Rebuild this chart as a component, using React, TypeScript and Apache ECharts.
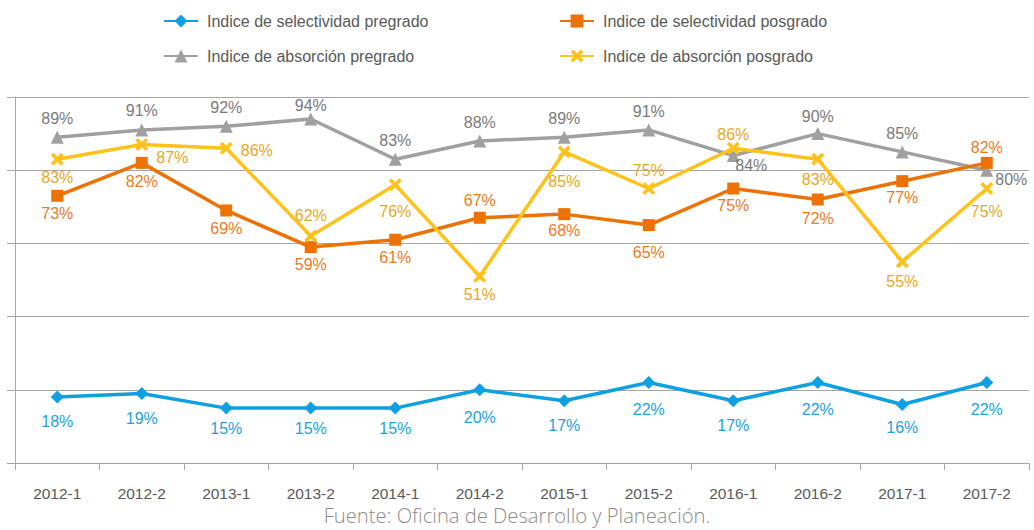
import React, { useEffect, useRef } from 'react';
import * as echarts from 'echarts';

const categories = ['2012-1', '2012-2', '2013-1', '2013-2', '2014-1', '2014-2', '2015-1', '2015-2', '2016-1', '2016-2', '2017-1', '2017-2'];
const selectividadPregrado = [18, 19, 15, 15, 15, 20, 17, 22, 17, 22, 16, 22];
const selectividadPosgrado = [73, 82, 69, 59, 61, 67, 68, 65, 75, 72, 77, 82];
const absorcionPregrado = [89, 91, 92, 94, 83, 88, 89, 91, 84, 90, 85, 80];
const absorcionPosgrado = [83, 87, 86, 62, 76, 51, 85, 75, 86, 83, 55, 75];

const seriesNames = [
  'Indice de selectividad pregrado',
  'Indice de selectividad posgrado',
  'Indice de absorción pregrado',
  'Indice de absorción posgrado',
];
const footer = 'Fuente: Oficina de Desarrollo y Planeación.';

const FONT = '"Liberation Sans", Arial, sans-serif';
const X_SYMBOL = 'path://M0,2L2,0L5,3L8,0L10,2L7,5L10,8L8,10L5,7L2,10L0,8L3,5Z';

// label placement per point (style only)
const blueDist = [10, 11, 6, 6, 6, 13, 10, 13, 10, 13, 9, 13];
const orangePos = ['b', 'b', 'b', 'b', 'b', 't', 'b', 'b', 'b', 'b', 'b', 't'];
const orangeDist = [4, 5, 4, 3, 4, 3, 2, 13, 3, 5, 2, 1];
const grayDist = [4, 5, 4, -1, 4, 4, 4, 4, 0, 3, 4, 0];
const yellowPos = ['b', 'r', 'r', 't', 'b', 'b', 'b', 't', 't', 'b', 'b', 'b'];
const yellowDist = [4, 6, 6, 6, 12, 4, 15, 4, -1, 6, 5, 8];

export default function App() {
  const ref = useRef<HTMLDivElement>(null);
  useEffect(() => {
    if (!ref.current) return;
    const chart = echarts.init(ref.current, undefined, { renderer: 'svg' });
    const lbl = (color: string) => ({
      show: true,
      formatter: (p: any) => p.value + '%',
      color,
      fontFamily: FONT,
      fontSize: 16,
    });
    const legendBase = {
      orient: 'vertical',
      top: 8,
      itemGap: 19,
      itemWidth: 34,
      itemHeight: 16,
      textStyle: { color: '#595959', fontFamily: FONT, fontSize: 16, padding: [0, 0, 0, 4] },
    };
    const posMap: any = { b: 'bottom', t: 'top', r: 'right' };
    const option: any = {
      animation: false,
      backgroundColor: '#ffffff',
      grid: { left: 15, right: 5, top: 97, bottom: 67 },
      legend: [
        { ...legendBase, data: [seriesNames[0], seriesNames[2]], left: 158 },
        { ...legendBase, data: [seriesNames[1], seriesNames[3]], left: 554 },
      ],
      xAxis: {
        type: 'category',
        data: categories,
        boundaryGap: true,
        axisLine: { lineStyle: { color: '#A6A6A6', width: 1 } },
        axisTick: { show: true, length: 7, inside: false, lineStyle: { color: '#A6A6A6' } },
        axisLabel: { color: '#595959', fontFamily: FONT, fontSize: 15.5, margin: 22 },
      },
      yAxis: {
        type: 'value',
        min: 0,
        max: 100,
        interval: 20,
        axisLine: { show: true, lineStyle: { color: '#A6A6A6', width: 1 } },
        axisTick: { show: true, length: 8, lineStyle: { color: '#A6A6A6' } },
        axisLabel: { show: false },
        splitLine: { show: true, lineStyle: { color: '#A6A6A6', width: 1 } },
      },
      graphic: [
        {
          type: 'text',
          left: 'center',
          top: 505,
          style: { text: footer, fill: '#8C8C8C', font: '300 20.2px "Open Sans", sans-serif' },
        },
      ],
      series: [
        {
          name: seriesNames[0],
          type: 'line',
          data: selectividadPregrado.map((v, i) => ({
            value: v,
            label: { position: 'bottom', distance: blueDist[i] },
          })),
          symbol: 'diamond',
          symbolSize: 13,
          lineStyle: { color: '#0FA0E2', width: 3.5 },
          itemStyle: { color: '#0FA0E2' },
          label: lbl('#1BA3E2'),
          z: 3,
        },
        {
          name: seriesNames[1],
          type: 'line',
          data: selectividadPosgrado.map((v, i) => ({
            value: v,
            label: { position: posMap[orangePos[i]], distance: orangeDist[i] },
          })),
          symbol: 'rect',
          symbolSize: 12,
          lineStyle: { color: '#EE7203', width: 3.5 },
          itemStyle: { color: '#EE7203' },
          label: lbl('#EE7A1A'),
          z: 4,
        },
        {
          name: seriesNames[2],
          type: 'line',
          data: absorcionPregrado.map((v, i) => ({
            value: v,
            label:
              i === 8
                ? { position: 'bottom', distance: 0, offset: [18, -5] }
                : i === 11
                ? { position: 'right', distance: 2, offset: [0, 9] }
                : { position: 'top', distance: grayDist[i] },
          })),
          symbol: 'triangle',
          symbolSize: 13,
          lineStyle: { color: '#A0A0A0', width: 3.5 },
          itemStyle: { color: '#A0A0A0' },
          label: lbl('#7A7A7A'),
          z: 2,
        },
        {
          name: seriesNames[3],
          type: 'line',
          data: absorcionPosgrado.map((v, i) => ({
            value: v,
            label:
              yellowPos[i] === 'r'
                ? { position: 'right', distance: yellowDist[i] + 2, offset: [0, i === 1 ? 13 : 2] }
                : { position: posMap[yellowPos[i]], distance: yellowDist[i] },
          })),
          symbol: X_SYMBOL,
          symbolSize: 13,
          lineStyle: { color: '#FFC21A', width: 3.5 },
          itemStyle: { color: '#FFC21A' },
          label: lbl('#E8A81E'),
          z: 5,
        },
      ],
    };
    chart.setOption(option);
    return () => chart.dispose();
  }, []);
  return <div ref={ref} style={{ position: 'fixed', left: 0, top: 0, width: 1034, height: 530 }} />;
}
